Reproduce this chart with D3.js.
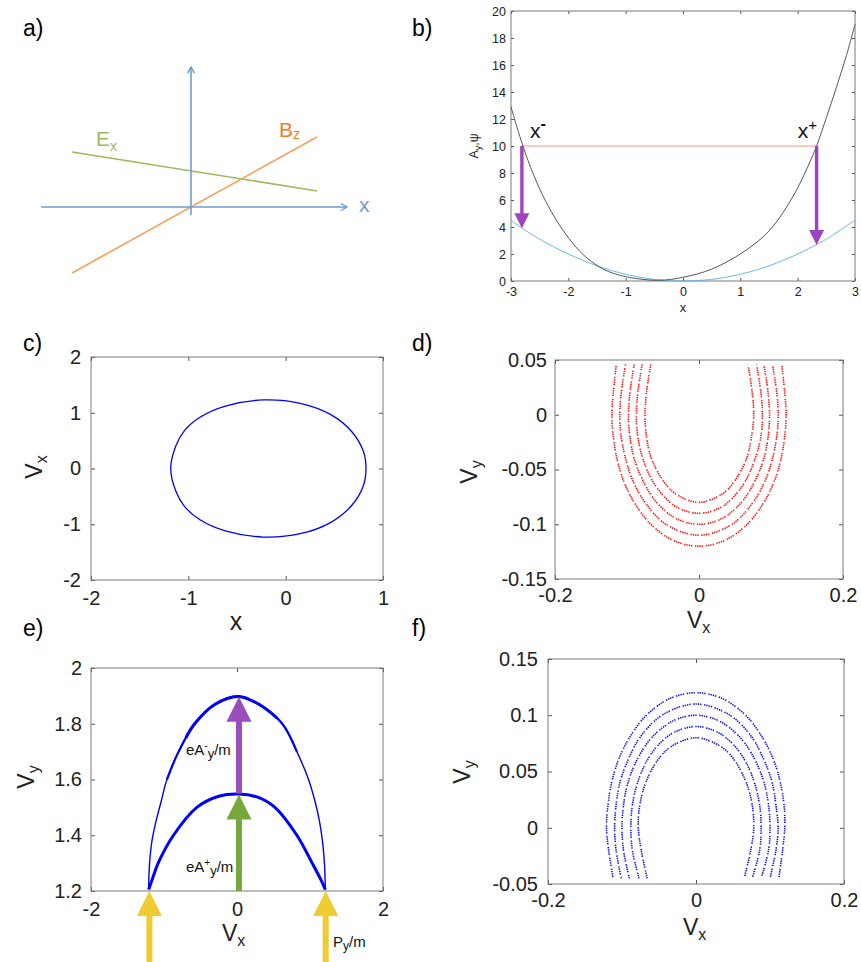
<!DOCTYPE html>
<html><head><meta charset="utf-8">
<script src="https://cdn.jsdelivr.net/npm/d3@7"></script>
<style>
body{margin:0;background:#fff}
svg{display:block}
text{font-family:"Liberation Sans",Arial,Helvetica,sans-serif}
</style>
</head><body>
<svg id="fig" width="861" height="962"></svg>
<script>
// ---------------- DATA ----------------
const panelLabels = ["a)", "b)", "c)", "d)", "e)", "f)"];

// panel a (schematic, abstract units)
const aAxisX = [[-1.0, 0], [1.04, 0]];
const aAxisY = [[0, -0.053], [0, 0.933]];
const aEx = [[-0.793, 0.367], [0.84, 0.107]];
const aBz = [[-0.793, -0.44], [0.84, 0.467]];

// panel b
const bXTicks = [-3, -2, -1, 0, 1, 2, 3];
const bYTicks = [0, 2, 4, 6, 8, 10, 12, 14, 16, 18, 20];
const bBlack = [[-3, 12.9], [-2.8, 10.1], [-2.6, 7.8], [-2.4, 5.95], [-2.2, 4.45], [-2.0, 3.2], [-1.8, 2.2], [-1.6, 1.45], [-1.4, 0.9], [-1.2, 0.55], [-1.0, 0.32], [-0.7, 0.12], [-0.45, 0.05], [-0.2, 0.12], [0, 0.28], [0.25, 0.52], [0.5, 0.88], [0.75, 1.38], [1.0, 2.0], [1.25, 2.75], [1.5, 3.7], [1.75, 5.1], [2.0, 6.9], [2.18, 8.5], [2.33, 10.0], [2.5, 12.1], [2.68, 14.4], [2.85, 16.7], [3, 19.0]];
const bBlue = [[-3, 4.5], [-2.8, 3.9], [-2.5, 3.1], [-2, 2.0], [-1.5, 1.12], [-1, 0.5], [-0.5, 0.12], [0, 0], [0.5, 0.12], [1, 0.5], [1.5, 1.12], [2, 2.0], [2.35, 2.75], [2.5, 3.1], [3, 4.5]];
const bLevel = 10;
const bArrows = [{x: -2.81, from: 10, to: 3.9}, {x: 2.33, from: 10, to: 2.67}];

// panel c
const cXTicks = [-2, -1, 0, 1];
const cYTicks = [-2, -1, 0, 1, 2];
const cLoop = [[-1.181, 0], [-1.13, 0.4], [-1.04, 0.68], [-0.88, 0.92], [-0.62, 1.12], [-0.23, 1.23], [0.15, 1.17], [0.46, 0.97], [0.68, 0.66], [0.8, 0.3], [0.825, 0], [0.8, -0.3], [0.68, -0.66], [0.46, -0.97], [0.15, -1.17], [-0.23, -1.23], [-0.62, -1.12], [-0.88, -0.92], [-1.04, -0.68], [-1.13, -0.4]];

// panel d
const dXTicks = [-0.2, 0, 0.2];
const dYTicks = [-0.15, -0.1, -0.05, 0, 0.05];
const dArc0 = [[-0.067,0.046],[-0.073,0.02],[-0.075,0],[-0.073,-0.02],[-0.066,-0.04],[-0.05,-0.06],[-0.033,-0.072],[0,-0.08],[0.033,-0.072],[0.05,-0.06],[0.066,-0.04],[0.073,-0.02],[0.076,0],[0.074,0.02],[0.068,0.046]];
const dArc1 = [[-0.079,0.046],[-0.085,0.02],[-0.087,0],[-0.085,-0.02],[-0.078,-0.04],[-0.065,-0.06],[-0.048,-0.075],[-0.029,-0.085],[0,-0.09],[0.029,-0.085],[0.048,-0.075],[0.065,-0.06],[0.078,-0.04],[0.086,-0.02],[0.088,0],[0.086,0.02],[0.08,0.046]];
const dArc2 = [[-0.09,0.046],[-0.096,0.02],[-0.098,0],[-0.096,-0.02],[-0.09,-0.04],[-0.078,-0.06],[-0.059,-0.08],[-0.031,-0.095],[0,-0.1],[0.031,-0.095],[0.059,-0.08],[0.078,-0.06],[0.09,-0.04],[0.096,-0.02],[0.098,0],[0.096,0.02],[0.09,0.046]];
const dArc3 = [[-0.102,0.046],[-0.108,0.02],[-0.11,0],[-0.108,-0.02],[-0.102,-0.04],[-0.092,-0.06],[-0.075,-0.08],[-0.046,-0.1],[0,-0.11],[0.046,-0.1],[0.075,-0.08],[0.092,-0.06],[0.102,-0.04],[0.108,-0.02],[0.11,0],[0.108,0.02],[0.102,0.046]];
const dArc4 = [[-0.115,0.046],[-0.119,0.02],[-0.121,0],[-0.119,-0.02],[-0.114,-0.04],[-0.105,-0.06],[-0.09,-0.08],[-0.067,-0.1],[-0.035,-0.115],[0,-0.12],[0.035,-0.115],[0.067,-0.1],[0.09,-0.08],[0.105,-0.06],[0.114,-0.04],[0.119,-0.02],[0.121,0],[0.119,0.02],[0.115,0.046]];

// panel e
const eXTicks = [-2, 0, 2];
const eYTicks = [1.2, 1.4, 1.6, 1.8, 2];
const eOuter = [[-1.21,1.205],[-1.207,1.25],[-1.195,1.31],[-1.165,1.38],[-1.11,1.45],[-1.04,1.52],[-0.96,1.6],[-0.8,1.7],[-0.58,1.8],[-0.3,1.87],[0.02,1.898],[0.3,1.87],[0.62,1.8],[0.82,1.7],[0.98,1.6],[1.07,1.52],[1.13,1.45],[1.175,1.37],[1.2,1.29],[1.21,1.205]];
const eOuterMid = [[-0.96,1.6],[-0.8,1.7],[-0.58,1.8],[-0.3,1.87],[0.02,1.898],[0.3,1.87],[0.62,1.8],[0.82,1.7]];
const eOuterTop = [[-0.7,1.75],[-0.58,1.8],[-0.3,1.87],[0.02,1.898],[0.3,1.87],[0.55,1.82]];
const eInner = [[-1.21,1.205],[-1.15,1.25],[-1.08,1.3],[-0.87,1.4],[-0.55,1.5],[-0.25,1.54],[0.02,1.548],[0.3,1.535],[0.52,1.5],[0.82,1.4],[1.03,1.3],[1.15,1.24],[1.21,1.205]];
const eArrows = [
  {x: 0.027, from: 1.55, to: 1.897, color: "#9c4dbd"},
  {x: 0.027, from: 1.2, to: 1.546, color: "#76a83a"},
  {x: -1.2, from: 0.94, to: 1.2, color: "#f0cc30"},
  {x: 1.215, from: 0.94, to: 1.2, color: "#f0cc30"}
];

// panel f
const fXTicks = [-0.2, 0, 0.2];
const fYTicks = [-0.05, 0, 0.05, 0.1, 0.15];
const fArc0 = [[-0.066,-0.045],[-0.074,-0.02],[-0.078,0],[-0.076,0.02],[-0.068,0.04],[-0.052,0.06],[-0.034,0.072],[0,0.08],[0.034,0.072],[0.052,0.06],[0.068,0.04],[0.076,0.02],[0.078,0],[0.074,-0.02],[0.065,-0.045]];
const fArc1 = [[-0.077,-0.045],[-0.086,-0.02],[-0.088,0],[-0.086,0.02],[-0.079,0.04],[-0.066,0.06],[-0.049,0.075],[-0.029,0.085],[0,0.09],[0.029,0.085],[0.049,0.075],[0.066,0.06],[0.079,0.04],[0.086,0.02],[0.088,0],[0.086,-0.02],[0.076,-0.045]];
const fArc2 = [[-0.09,-0.045],[-0.098,-0.02],[-0.1,0],[-0.098,0.02],[-0.092,0.04],[-0.08,0.06],[-0.06,0.08],[-0.031,0.095],[0,0.1],[0.031,0.095],[0.06,0.08],[0.08,0.06],[0.092,0.04],[0.098,0.02],[0.1,0],[0.098,-0.02],[0.088,-0.045]];
const fArc3 = [[-0.101,-0.045],[-0.108,-0.02],[-0.11,0],[-0.108,0.02],[-0.103,0.04],[-0.092,0.06],[-0.076,0.08],[-0.046,0.1],[0,0.11],[0.046,0.1],[0.076,0.08],[0.092,0.06],[0.103,0.04],[0.108,0.02],[0.111,0],[0.108,-0.02],[0.1,-0.045]];
const fArc4 = [[-0.112,-0.045],[-0.118,-0.02],[-0.121,0],[-0.119,0.02],[-0.114,0.04],[-0.105,0.06],[-0.09,0.08],[-0.067,0.1],[-0.035,0.115],[0,0.12],[0.035,0.115],[0.067,0.1],[0.09,0.08],[0.105,0.06],[0.114,0.04],[0.119,0.02],[0.12,0],[0.117,-0.02],[0.112,-0.045]];

// ---------------- DRAWING ----------------
const svg = d3.select("#fig");
const FRAME = "#7a7a7a", TICKC = "#555", TXT = "#222";

function panel(box, xd, yd, xt, yt, o) {
  const x = d3.scaleLinear().domain(xd).range([box.l, box.r]);
  const y = d3.scaleLinear().domain(yd).range([box.b, box.t]);
  const g = svg.append("g");
  const fmt = d => String(d);
  const style = sel => {
    sel.select(".domain").remove();
    sel.selectAll("line").attr("stroke", TICKC);
    sel.selectAll("text").attr("font-size", o.fs).attr("fill", TXT);
  };
  g.append("g").attr("transform", `translate(0,${box.b})`)
    .call(d3.axisBottom(x).tickValues(xt).tickSize(-o.tk).tickSizeOuter(0).tickPadding(o.xpad).tickFormat(fmt)).call(style);
  g.append("g").attr("transform", `translate(0,${box.t})`)
    .call(d3.axisTop(x).tickValues(xt).tickSize(-o.tk).tickSizeOuter(0).tickFormat("")).call(style);
  g.append("g").attr("transform", `translate(${box.l},0)`)
    .call(d3.axisLeft(y).tickValues(yt).tickSize(-o.tk).tickSizeOuter(0).tickPadding(o.ypad).tickFormat(fmt)).call(style);
  g.append("g").attr("transform", `translate(${box.r},0)`)
    .call(d3.axisRight(y).tickValues(yt).tickSize(-o.tk).tickSizeOuter(0).tickFormat("")).call(style);
  g.append("rect").attr("x", box.l).attr("y", box.t).attr("width", box.r - box.l).attr("height", box.b - box.t)
    .attr("fill", "none").attr("stroke", FRAME).attr("stroke-width", 1);
  return {x, y, g};
}

function vArrow(g, cx, yTail, yTip, shaftW, headW, headL, color) {
  const dir = yTip < yTail ? -1 : 1; // -1 upward
  const base = yTip - dir * headL;
  g.append("path")
    .attr("d", `M${cx - shaftW/2},${yTail} L${cx - shaftW/2},${base} L${cx - headW/2},${base} L${cx},${yTip} L${cx + headW/2},${base} L${cx + shaftW/2},${base} L${cx + shaftW/2},${yTail} Z`)
    .attr("fill", color);
}

function label(txt, x, y) {
  svg.append("text").attr("x", x).attr("y", y).attr("font-size", 23).attr("fill", "#000").text(txt);
}

// panel labels
label(panelLabels[0], 23, 36);
label(panelLabels[1], 412, 36);
label(panelLabels[2], 23, 351);
label(panelLabels[3], 412, 351);
label(panelLabels[4], 23, 636);
label(panelLabels[5], 412, 636);

// ---- panel a ----
{
  const ax = d3.scaleLinear().domain([-1, 1]).range([41, 341]);
  const ay = d3.scaleLinear().domain([-1, 1]).range([357, 57]);
  const line = d3.line().x(d => ax(d[0])).y(d => ay(d[1]));
  const g = svg.append("g");
  const AX = "#6b9bd2";
  g.append("path").attr("d", line(aEx)).attr("stroke", "#9bbb59").attr("stroke-width", 1.6).attr("fill", "none");
  g.append("path").attr("d", line(aBz)).attr("stroke", "#f7a05a").attr("stroke-width", 1.6).attr("fill", "none");
  g.append("path").attr("d", line(aAxisX)).attr("stroke", AX).attr("stroke-width", 1.6).attr("fill", "none");
  g.append("path").attr("d", line(aAxisY)).attr("stroke", AX).attr("stroke-width", 1.6).attr("fill", "none");
  const tx = aAxisX[1], ty = aAxisY[1];
  g.append("path").attr("d", `M${ax(tx[0]) - 6},${ay(tx[1]) - 3.5} L${ax(tx[0])},${ay(tx[1])} L${ax(tx[0]) - 6},${ay(tx[1]) + 3.5}`)
    .attr("stroke", AX).attr("stroke-width", 1.4).attr("fill", "none");
  g.append("path").attr("d", `M${ax(ty[0]) - 3.5},${ay(ty[1]) + 6} L${ax(ty[0])},${ay(ty[1])} L${ax(ty[0]) + 3.5},${ay(ty[1]) + 6}`)
    .attr("stroke", AX).attr("stroke-width", 1.4).attr("fill", "none");
  g.append("text").attr("x", 359).attr("y", 212).attr("font-size", 21).attr("fill", AX).text("x");
  const ex = g.append("text").attr("x", 96).attr("y", 146).attr("font-size", 21).attr("fill", "#9bbb59");
  ex.append("tspan").text("E");
  ex.append("tspan").attr("font-size", 14).attr("dy", 5).text("x");
  const bz = g.append("text").attr("x", 279).attr("y", 137).attr("font-size", 21).attr("fill", "#ee7d2a");
  bz.append("tspan").text("B");
  bz.append("tspan").attr("font-size", 14).attr("dy", 2).text("z");
}

// ---- panel b ----
{
  const p = panel({l: 511, r: 855, t: 11, b: 281}, [-3, 3], [0, 20], bXTicks, bYTicks, {fs: 12.5, tk: 3, xpad: 6, ypad: 5});
  const line = d3.line().x(d => p.x(d[0])).y(d => p.y(d[1])).curve(d3.curveCatmullRom);
  p.g.append("path").attr("d", line([[bArrows[0].x, bLevel], [bArrows[1].x, bLevel]]))
    .attr("stroke", "#f8cdbf").attr("stroke-width", 2).attr("fill", "none");
  p.g.append("path").attr("d", line(bBlue)).attr("stroke", "#5aaee2").attr("stroke-width", 0.9).attr("fill", "none");
  p.g.append("path").attr("d", line(bBlack)).attr("stroke", "#444").attr("stroke-width", 0.9).attr("fill", "none");
  bArrows.forEach(a => vArrow(p.g, p.x(a.x), p.y(a.from), p.y(a.to), 3.4, 15, 15, "#9f44bf"));
  const xm = p.g.append("text").attr("x", p.x(-2.67)).attr("y", p.y(10.6)).attr("font-size", 21).attr("fill", "#111");
  xm.append("tspan").text("x");
  xm.append("tspan").attr("font-size", 16).attr("dy", -9).attr("font-weight", "bold").text("-");
  const xp = p.g.append("text").attr("x", p.x(2.0)).attr("y", p.y(10.6)).attr("font-size", 21).attr("fill", "#111");
  xp.append("tspan").text("x");
  xp.append("tspan").attr("font-size", 15).attr("dy", -8).text("+");
  p.g.append("text").attr("x", 683).attr("y", 312).attr("text-anchor", "middle").attr("font-size", 13).attr("fill", TXT).text("x");
  const yl = p.g.append("text").attr("transform", "translate(478,146) rotate(-90)").attr("text-anchor", "middle").attr("font-size", 12.5).attr("fill", TXT);
  yl.append("tspan").text("A");
  yl.append("tspan").attr("font-size", 9).attr("dy", 3).text("y");
  yl.append("tspan").attr("dy", -3).text(",ψ");
}

function vLabel(g, x, y, main, sub) {
  const t = g.append("text").attr("x", x).attr("y", y).attr("font-size", 23).attr("fill", TXT);
  t.append("tspan").text(main);
  t.append("tspan").attr("font-size", 16).attr("dy", 5).text(sub);
}
function vLabelRot(g, x, y, main, sub) {
  const t = g.append("text").attr("transform", `translate(${x},${y}) rotate(-90)`).attr("text-anchor", "middle").attr("font-size", 23).attr("fill", TXT);
  t.append("tspan").text(main);
  t.append("tspan").attr("font-size", 16).attr("dy", 5).text(sub);
}

// ---- panel c ----
{
  const p = panel({l: 91, r: 383, t: 357, b: 580}, [-2, 1], [-2, 2], cXTicks, cYTicks, {fs: 20, tk: 4, xpad: 11, ypad: 10});
  const line = d3.line().x(d => p.x(d[0])).y(d => p.y(d[1])).curve(d3.curveCatmullRomClosed);
  p.g.append("path").attr("d", line(cLoop)).attr("stroke", "#0000ff").attr("stroke-width", 1.3).attr("fill", "none");
  p.g.append("text").attr("x", 236).attr("y", 630).attr("text-anchor", "middle").attr("font-size", 25).attr("fill", TXT).text("x");
  vLabelRot(p.g, 42, 467, "V", "x");
}

// ---- panel d ----
const dotDash = "1.4 0.9 1.4 0.9 1.4 0.9 1.4 2.6";
{
  const p = panel({l: 555, r: 843, t: 360, b: 579}, [-0.2, 0.2], [-0.15, 0.05], dXTicks, dYTicks, {fs: 20, tk: 4, xpad: 9, ypad: 8});
  const line = d3.line().x(d => p.x(d[0])).y(d => p.y(d[1])).curve(d3.curveCatmullRom);
  [dArc0, dArc1, dArc2, dArc3, dArc4].forEach((arc, i) => {
    p.g.append("path").attr("d", line(arc)).attr("stroke", "#ff1010").attr("stroke-width", 1.6)
      .attr("stroke-dasharray", dotDash).attr("stroke-dashoffset", i * 2.3).attr("fill", "none");
  });
  vLabel(p.g, 687, 628, "V", "x");
  vLabelRot(p.g, 477, 472, "V", "y");
}

// ---- panel e ----
{
  const p = panel({l: 91, r: 383, t: 668, b: 891}, [-2, 2], [1.2, 2], eXTicks, eYTicks, {fs: 20, tk: 4, xpad: 11, ypad: 9});
  const line = d3.line().x(d => p.x(d[0])).y(d => p.y(d[1])).curve(d3.curveCatmullRom);
  p.g.append("path").attr("d", line(eOuter)).attr("stroke", "#0000ff").attr("stroke-width", 1.4).attr("fill", "none");
  p.g.append("path").attr("d", line(eOuterMid)).attr("stroke", "#0000ff").attr("stroke-width", 2.2).attr("fill", "none");
  p.g.append("path").attr("d", line(eOuterTop)).attr("stroke", "#0000ff").attr("stroke-width", 3).attr("fill", "none");
  p.g.append("path").attr("d", line(eInner)).attr("stroke", "#0000ff").attr("stroke-width", 3).attr("fill", "none").attr("stroke-linejoin", "round");
  eArrows.forEach(a => vArrow(p.g, p.x(a.x), p.y(a.from), p.y(a.to), 6, 25, 25, a.color));
  const t1 = p.g.append("text").attr("x", 186).attr("y", 755).attr("font-size", 15).attr("fill", "#111");
  t1.append("tspan").text("eA");
  t1.append("tspan").attr("font-size", 10).attr("dy", -6).text("-");
  t1.append("tspan").attr("font-size", 13).attr("dy", 9).text("y");
  t1.append("tspan").attr("dy", -3).text("/m");
  const t2 = p.g.append("text").attr("x", 186).attr("y", 872).attr("font-size", 15).attr("fill", "#111");
  t2.append("tspan").text("eA");
  t2.append("tspan").attr("font-size", 10).attr("dy", -6).text("+");
  t2.append("tspan").attr("font-size", 13).attr("dy", 9).text("y");
  t2.append("tspan").attr("dy", -3).text("/m");
  const t3 = p.g.append("text").attr("x", 333).attr("y", 947).attr("font-size", 15).attr("fill", "#111");
  t3.append("tspan").text("P");
  t3.append("tspan").attr("font-size", 12).attr("dy", 3).text("y");
  t3.append("tspan").attr("dy", -3).text("/m");
  vLabel(p.g, 222, 941, "V", "x");
  vLabelRot(p.g, 34, 777, "V", "y");
}

// ---- panel f ----
{
  const p = panel({l: 548, r: 844, t: 659, b: 884}, [-0.2, 0.2], [-0.05, 0.15], fXTicks, fYTicks, {fs: 20, tk: 4, xpad: 9, ypad: 10});
  const line = d3.line().x(d => p.x(d[0])).y(d => p.y(d[1])).curve(d3.curveCatmullRom);
  [fArc0, fArc1, fArc2, fArc3, fArc4].forEach((arc, i) => {
    p.g.append("path").attr("d", line(arc)).attr("stroke", "#1010ff").attr("stroke-width", 1.6)
      .attr("stroke-dasharray", dotDash).attr("stroke-dashoffset", i * 2.3).attr("fill", "none");
  });
  vLabel(p.g, 683, 935, "V", "x");
  vLabelRot(p.g, 470, 772, "V", "y");
}
</script>
</body></html>
